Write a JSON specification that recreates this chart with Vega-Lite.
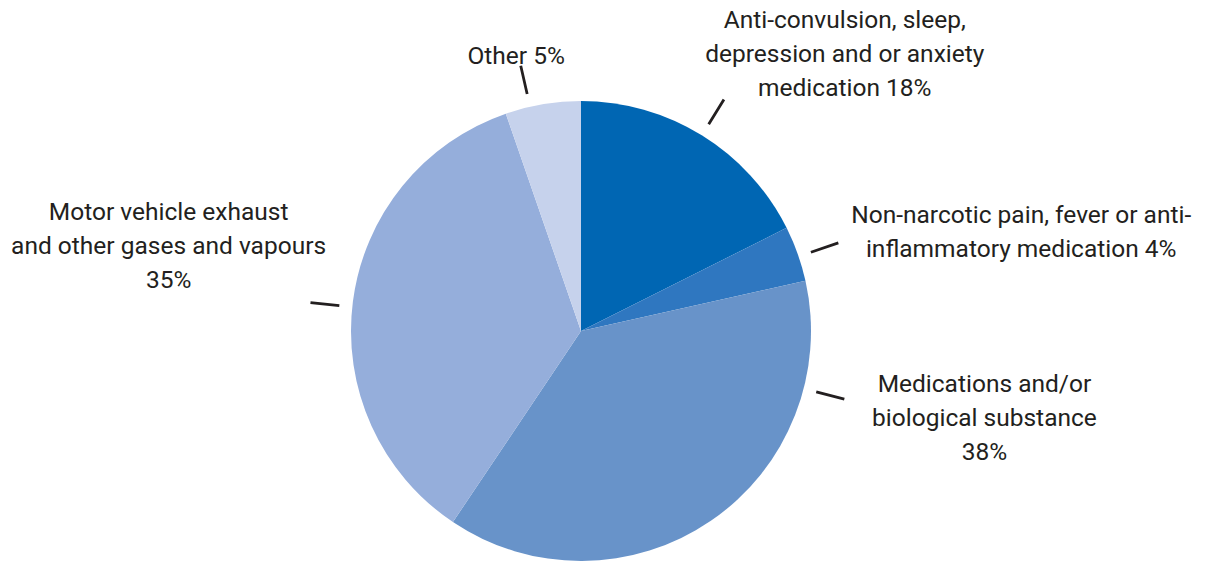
{
  "$schema": "https://vega.github.io/schema/vega-lite/v6.json",
  "width": 1162,
  "height": 462,
  "autosize": {"type": "none"},
  "padding": {"left": 0, "top": 100, "right": 52, "bottom": 0},
  "background": "white",
  "view": {"stroke": null},
  "datasets": {
    "slices": [
      {"ord": 1, "category": "Anti-convulsion, sleep, depression and or anxiety medication", "pct": 17.6},
      {"ord": 2, "category": "Non-narcotic pain, fever or anti-inflammatory medication", "pct": 3.9},
      {"ord": 3, "category": "Medications and/or biological substance", "pct": 37.9},
      {"ord": 4, "category": "Motor vehicle exhaust and other gases and vapours", "pct": 35.3},
      {"ord": 5, "category": "Other", "pct": 5.3}
    ],
    "labels": [
      {"label": "Anti-convulsion, sleep,\ndepression and or anxiety\nmedication 18%", "leaderAngle": 31.7, "labelAngle": 40.4, "labelDist": 407},
      {"label": "Non-narcotic pain, fever or anti-\ninflammatory medication 4%", "leaderAngle": 71.1, "labelAngle": 75.35, "labelDist": 455},
      {"label": "Medications and/or\nbiological substance\n38%", "leaderAngle": 104.5, "labelAngle": 97.6, "labelDist": 407},
      {"label": "Motor vehicle exhaust\nand other gases and vapours\n35%", "leaderAngle": 276, "labelAngle": 286.0, "labelDist": 429},
      {"label": "Other 5%", "leaderAngle": 347.2, "labelAngle": 346.7, "labelDist": 282}
    ]
  },
  "layer": [
    {
      "data": {"name": "slices"},
      "mark": {"type": "arc", "radius": 230},
      "encoding": {
        "theta": {"field": "pct", "type": "quantitative", "stack": true},
        "order": {"field": "ord", "type": "quantitative"},
        "color": {
          "field": "category",
          "type": "nominal",
          "legend": null,
          "scale": {
            "domain": [
              "Anti-convulsion, sleep, depression and or anxiety medication",
              "Non-narcotic pain, fever or anti-inflammatory medication",
              "Medications and/or biological substance",
              "Motor vehicle exhaust and other gases and vapours",
              "Other"
            ],
            "range": ["#0066b3", "#2f77c0", "#6893c9", "#95aedb", "#c6d2ec"]
          }
        }
      }
    },
    {
      "data": {"name": "labels"},
      "mark": {"type": "arc", "radius": 272, "radius2": 243, "stroke": "#231f20", "strokeWidth": 2.8, "fill": null},
      "encoding": {
        "theta": {"field": "leaderAngle", "type": "quantitative", "stack": null, "scale": {"domain": [0, 360], "range": [0, 6.283185307]}},
        "theta2": {"field": "leaderAngle"}
      }
    },
    {
      "data": {"name": "labels"},
      "mark": {"type": "text", "font": "Roboto", "fontSize": 24.5, "lineHeight": 34, "lineBreak": "\n", "align": "center", "baseline": "middle", "color": "#231f20"},
      "encoding": {
        "theta": {"field": "labelAngle", "type": "quantitative", "stack": null, "scale": {"domain": [0, 360], "range": [0, 6.283185307]}},
        "radius": {"field": "labelDist", "type": "quantitative", "scale": {"type": "linear", "domain": [0, 500], "range": [0, 500], "zero": true}},
        "text": {"field": "label", "type": "nominal"}
      }
    }
  ],
  "resolve": {"scale": {"theta": "independent", "radius": "independent", "color": "independent"}}
}
